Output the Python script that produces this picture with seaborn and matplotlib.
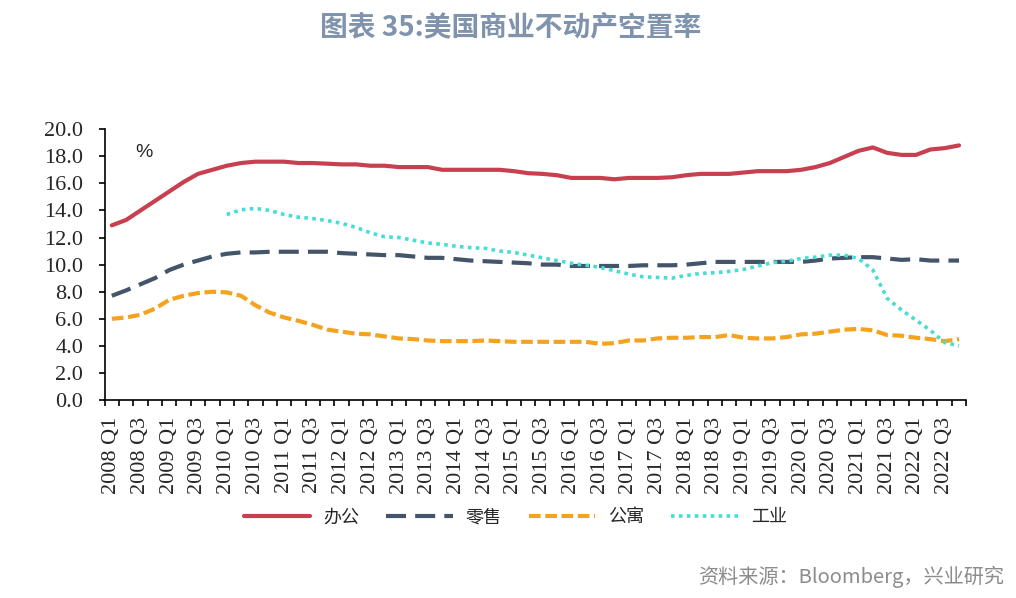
import numpy as np
import pandas as pd
import matplotlib
matplotlib.use("Agg")
import matplotlib.pyplot as plt
import seaborn as sns
from matplotlib.ticker import FixedLocator

# ---------------- data ----------------
quarters = [f"{y} Q{q}" for y in range(2008, 2023) for q in range(1, 5)]

office = [12.9, 13.3, 14.0, 14.7, 15.4, 16.1, 16.7, 17.0, 17.3, 17.5,
          17.6, 17.6, 17.6, 17.5, 17.5, 17.45, 17.4, 17.4, 17.3, 17.3,
          17.2, 17.2, 17.2, 17.0, 17.0, 17.0, 17.0, 17.0, 16.9, 16.75,
          16.7, 16.6, 16.4, 16.4, 16.4, 16.3, 16.4, 16.4, 16.4, 16.45,
          16.6, 16.7, 16.7, 16.7, 16.8, 16.9, 16.9, 16.9, 17.0, 17.2,
          17.5, 17.95, 18.4, 18.65, 18.25, 18.1, 18.1, 18.5, 18.6, 18.8]

retail = [7.7, 8.1, 8.55, 9.0, 9.6, 10.0, 10.3, 10.6, 10.8, 10.9,
          10.9, 10.95, 10.95, 10.95, 10.95, 10.95, 10.85, 10.8, 10.75, 10.7,
          10.7, 10.6, 10.5, 10.5, 10.4, 10.3, 10.25, 10.2, 10.15, 10.1,
          10.0, 10.0, 9.9, 9.9, 9.9, 9.9, 9.9, 9.95, 9.95, 9.95,
          10.0, 10.1, 10.2, 10.2, 10.2, 10.2, 10.2, 10.2, 10.2, 10.3,
          10.45, 10.5, 10.55, 10.55, 10.45, 10.35, 10.4, 10.3, 10.3, 10.3]

apartment = [6.0, 6.1, 6.3, 6.75, 7.4, 7.7, 7.9, 8.0, 7.95, 7.7,
             7.0, 6.45, 6.1, 5.85, 5.55, 5.2, 5.05, 4.9, 4.85, 4.7,
             4.55, 4.5, 4.4, 4.35, 4.35, 4.35, 4.4, 4.35, 4.3, 4.3,
             4.3, 4.3, 4.3, 4.3, 4.15, 4.2, 4.4, 4.4, 4.55, 4.6,
             4.6, 4.65, 4.65, 4.8, 4.6, 4.55, 4.55, 4.65, 4.85, 4.9,
             5.05, 5.2, 5.25, 5.15, 4.8, 4.75, 4.6, 4.5, 4.35, 4.5]

industrial = [np.nan] * 8 + [
              13.7, 14.05, 14.15, 14.0, 13.7, 13.5, 13.4, 13.25, 13.05, 12.75,
              12.35, 12.05, 12.0, 11.8, 11.6, 11.5, 11.35, 11.25, 11.2, 11.0,
              10.9, 10.7, 10.5, 10.3, 10.1, 9.95, 9.8, 9.55, 9.3, 9.1,
              9.05, 9.0, 9.2, 9.35, 9.4, 9.5, 9.65, 9.9, 10.15, 10.25,
              10.45, 10.55, 10.7, 10.7, 10.45, 9.6, 7.5, 6.65, 5.9, 5.15,
              4.25, 4.0]

series_names = ["办公", "零售", "公寓", "工业"]
y_ticks = [0, 2, 4, 6, 8, 10, 12, 14, 16, 18, 20]

# ---------------- style ----------------
sns.set_theme(style="white")
plt.rcParams["font.family"] = ["Liberation Serif", "Noto Sans CJK SC"]

fig = plt.figure(figsize=(10.16, 5.98), dpi=100)
ax = fig.add_axes([0.103, 0.331, 0.848, 0.453])

x = np.arange(len(quarters))
df = pd.DataFrame({"x": x, "办公": office, "零售": retail,
                   "公寓": apartment, "工业": industrial})

styles = {
    "办公": dict(color="#C8404F", lw=3.0, dashes=None),
    "零售": dict(color="#44546A", lw=3.0, dashes=(4.8, 2.2)),
    "公寓": dict(color="#F5A31E", lw=3.0, dashes=(2.8, 1.1)),
    "工业": dict(color="#45DDD6", lw=2.6, dashes=(1.0, 1.2)),
}

for name in series_names:
    st = styles[name]
    sub = df[["x", name]].dropna()
    sns.lineplot(data=sub, x="x", y=name, ax=ax, color=st["color"],
                 linewidth=st["lw"], label=name, legend=False)
    line = ax.lines[-1]
    if st["dashes"] is not None:
        line.set_dashes(st["dashes"])
    line.set_solid_capstyle("round")

ax.set_xlim(-0.5, len(quarters) - 0.5)
ax.set_ylim(0, 20)
ax.set_yticks(y_ticks)
ax.set_yticklabels([f"{v:.1f}" for v in y_ticks], fontsize=16,
                   family="Liberation Serif")
ax.set_xticks(x[::2])
ax.set_xticklabels(quarters[::2], rotation=90, fontsize=16,
                   family="Liberation Serif")
ax.xaxis.set_minor_locator(FixedLocator(np.arange(-0.5, len(quarters), 1)))
ax.tick_params(axis="x", which="major", length=0, pad=12)
ax.tick_params(axis="x", which="minor", length=4.5, width=1.2,
               direction="out", color="black", bottom=True)
ax.tick_params(axis="y", which="major", length=4.5, width=1.2,
               direction="out", color="black", left=True, pad=11)
ax.set_xlabel("")
ax.set_ylabel("")
for s in ["top", "right"]:
    ax.spines[s].set_visible(False)
for s in ["left", "bottom"]:
    ax.spines[s].set_color("black")
    ax.spines[s].set_linewidth(1.2)

ax.text(0.035, 0.915, "%", transform=ax.transAxes, fontsize=14,
        family=["Liberation Sans Narrow", "Liberation Sans", "DejaVu Sans"],
        va="center", ha="left")

handles = ax.lines[:4]
leg = fig.legend(handles, series_names, loc="center", ncol=4,
                 bbox_to_anchor=(0.507, 0.135), frameon=False,
                 handlelength=3.7, columnspacing=1.5, handletextpad=0.7,
                 prop={"family": "Noto Sans CJK SC", "size": 13})

fig.text(0.503, 0.955, "图表 35:美国商业不动产空置率", ha="center", va="center",
         fontsize=20, fontweight="bold", color="#7F93AD",
         family=["Noto Sans CJK SC", "DejaVu Sans"])

fig.text(0.988, 0.035, "资料来源：Bloomberg，兴业研究", ha="right", va="center",
         fontsize=14.5, color="#8C8C8C",
         family=["Noto Sans CJK SC", "DejaVu Sans"])

fig.savefig("out.png", dpi=100)
